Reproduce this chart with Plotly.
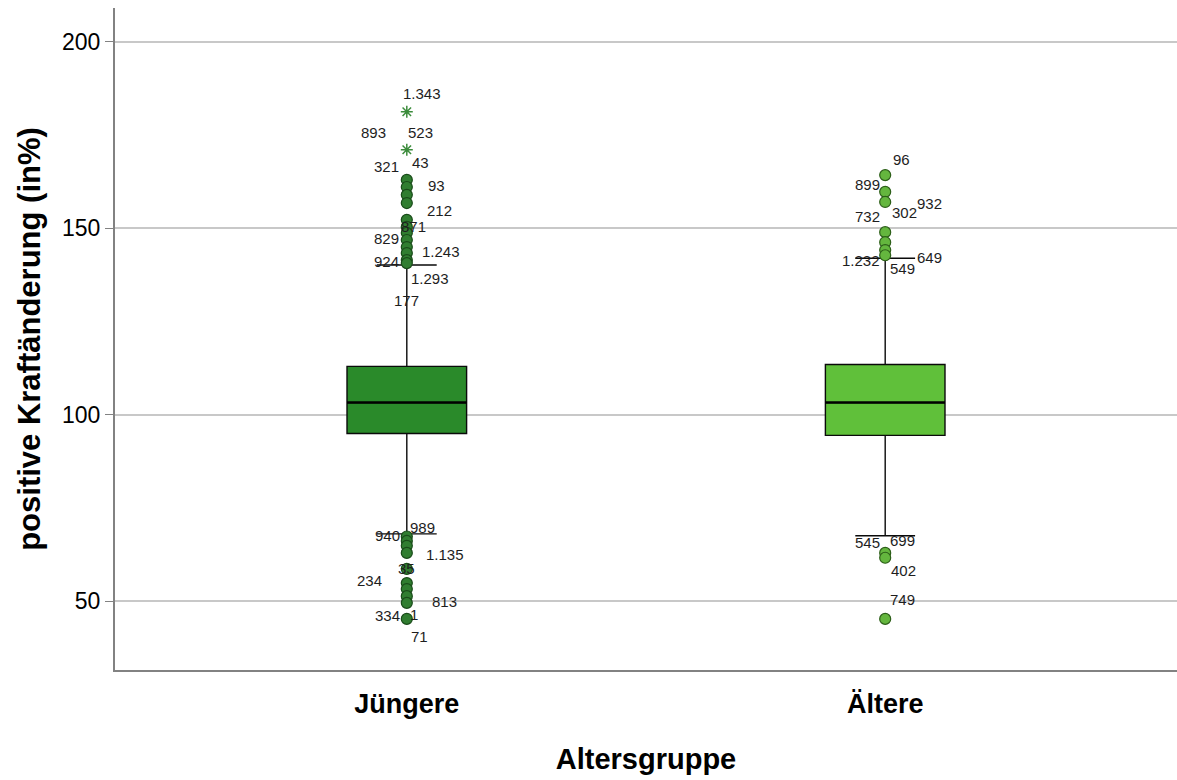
import plotly.graph_objects as go

# ---- data ----
groups = ["Jüngere", "Ältere"]
q1 = [94.9, 94.4]
median = [103.2, 103.2]
q3 = [112.9, 113.4]
lower_whisker = [68.0, 67.5]
upper_whisker = [140.1, 141.9]

jung_outliers = [162.9, 161.0, 158.9, 156.7, 152.2, 150.3, 148.7, 146.8, 144.9, 143.3, 141.4, 140.6,
                 67.3, 66.1, 64.8, 62.9, 58.6, 54.8, 53.2, 51.3, 49.5, 45.2]
jung_extremes = [181.2, 171.0]
alt_outliers = [164.2, 159.7, 157.0, 148.9, 146.2, 144.1, 142.7, 62.9, 61.6, 45.2]

# case labels: (text, y-value, pixel offset from group centre)
jung_labels = [
    ("1.343", 186.0, 15), ("893", 175.5, -33), ("523", 175.5, 14), ("321", 166.4, -20),
    ("43", 167.5, 14), ("93", 161.3, 30), ("212", 154.6, 33), ("871", 150.3, 7),
    ("829", 147.3, -20), ("1.243", 143.8, 34), ("924", 140.9, -20), ("1.293", 136.6, 23),
    ("177", 130.6, 0), ("940", 67.5, -19), ("989", 69.6, 16), ("1.135", 62.6, 38),
    ("35", 58.6, 0), ("234", 55.4, -37), ("813", 50.0, 38), ("334", 46.0, -19),
    ("1", 46.5, 7), ("71", 40.6, 13),
]
alt_labels = [
    ("96", 168.3, 16), ("899", 161.6, -18), ("932", 156.7, 44), ("302", 154.3, 19),
    ("732", 153.0, -18), ("1.232", 141.4, -24), ("649", 142.2, 44), ("549", 139.2, 17),
    ("545", 65.6, -18), ("699", 66.1, 17), ("402", 58.1, 18), ("749", 50.5, 17),
]

box_colors = ["rgb(42,138,42)", "rgb(96,192,58)"]
pt_fill = ["rgb(48,125,48)", "rgb(100,182,62)"]
pt_edge = ["rgb(25,75,25)", "rgb(45,95,25)"]
BOX_W = 0.25
FONT = "Liberation Sans, Arial"

fig = go.Figure()
for i, g in enumerate(groups):
    fig.add_trace(go.Box(
        x=[i], q1=[q1[i]], median=[median[i]], q3=[q3[i]],
        lowerfence=[lower_whisker[i]], upperfence=[upper_whisker[i]],
        boxpoints=False, width=BOX_W, whiskerwidth=0.5,
        fillcolor=box_colors[i], line=dict(color="rgb(10,10,10)", width=1.4),
        showlegend=False, hoverinfo="skip"))
    # thicker median line
    fig.add_trace(go.Scatter(
        x=[i - BOX_W / 2, i + BOX_W / 2], y=[median[i], median[i]], mode="lines",
        line=dict(color="black", width=2.5), showlegend=False, hoverinfo="skip"))

outs = [jung_outliers, alt_outliers]
for i in range(2):
    fig.add_trace(go.Scatter(
        x=[i] * len(outs[i]), y=outs[i], mode="markers",
        marker=dict(symbol="circle", size=11, color=pt_fill[i],
                    line=dict(color=pt_edge[i], width=1.2)),
        showlegend=False, hoverinfo="skip"))

fig.add_trace(go.Scatter(
    x=[0] * len(jung_extremes), y=jung_extremes, mode="markers",
    marker=dict(symbol="asterisk-open", size=10, color="rgb(60,140,60)",
                line=dict(color="rgb(60,140,60)", width=1.5)),
    showlegend=False, hoverinfo="skip"))

for i, labs in enumerate([jung_labels, alt_labels]):
    for txt, yv, dx in labs:
        fig.add_annotation(x=i, y=yv, text=txt, showarrow=False, xshift=dx,
                           font=dict(family=FONT, size=15, color="rgb(30,30,30)"))

fig.update_layout(
    width=1177, height=780,
    margin=dict(l=115, r=0, t=8, b=110),
    paper_bgcolor="white", plot_bgcolor="white",
    font=dict(family=FONT, color="black"),
    xaxis=dict(range=[-0.61, 1.61], tickmode="array", tickvals=[0, 1], ticktext=groups,
               tickfont=dict(size=27, family=FONT, weight="bold"),
               showgrid=False, zeroline=False, showline=True, linecolor="rgb(130,130,130)",
               linewidth=2, ticks="", ticklabelstandoff=9, automargin=False,
               title=dict(text="Altersgruppe", font=dict(size=29, weight="bold"), standoff=30)),
    yaxis=dict(range=[31.5, 209], tickvals=[50, 100, 150, 200],
               tickfont=dict(size=23, family=FONT), automargin=False,
               showgrid=True, gridcolor="rgb(200,200,200)", gridwidth=2,
               zeroline=False, showline=True, linecolor="rgb(130,130,130)", linewidth=2,
               ticks="outside", ticklen=8, tickcolor="rgb(130,130,130)",
               title=dict(text="positive Kraftänderung (in%)",
                          font=dict(size=31, weight="bold"), standoff=12)),
)

fig.write_html("out.html")
